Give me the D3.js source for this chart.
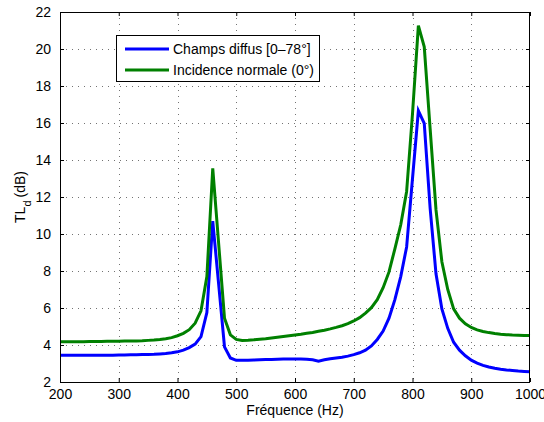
<!DOCTYPE html>
<html>
<head>
<meta charset="utf-8">
<script src="https://cdn.jsdelivr.net/npm/d3@7"></script>
<style>
  html, body { margin: 0; padding: 0; background: #fff; }
  svg { display: block; font-family: "Liberation Sans", Arial, Helvetica, sans-serif; }
</style>
</head>
<body>
<svg id="chart" width="544" height="422"></svg>
<script>
// ---- data ----
const frequencies = [200,210,220,230,240,250,260,270,280,290,300,310,320,330,340,350,360,370,380,390,
  400,410,420,430,440,450,460,470,480,490,500,510,520,530,540,550,560,570,580,590,
  600,610,620,630,640,650,660,670,680,690,700,710,720,730,740,750,760,770,780,790,
  800,810,820,830,840,850,860,870,880,890,900,910,920,930,940,950,960,970,980,990,1000];

const champsDiffus = [3.44,3.44,3.44,3.44,3.44,3.45,3.45,3.45,3.45,3.45,3.46,3.46,3.47,3.47,3.48,3.49,3.50,3.52,3.54,3.58,
  3.63,3.72,3.86,4.05,4.45,5.75,10.7,7.3,3.9,3.3,3.17,3.17,3.18,3.19,3.20,3.21,3.22,3.23,3.24,3.24,
  3.24,3.24,3.23,3.20,3.12,3.20,3.26,3.30,3.34,3.40,3.48,3.58,3.72,3.95,4.30,4.75,5.45,6.45,7.7,9.3,
  13.0,16.66,15.98,11.4,7.85,5.95,4.9,4.15,3.72,3.42,3.18,3.02,2.90,2.81,2.74,2.69,2.65,2.62,2.59,2.57,2.55];

const incidenceNormale = [4.18,4.18,4.18,4.18,4.18,4.19,4.19,4.19,4.20,4.20,4.20,4.21,4.21,4.22,4.23,4.25,4.27,4.30,4.34,4.40,
  4.50,4.63,4.83,5.18,5.85,7.7,13.55,9.5,5.45,4.55,4.30,4.25,4.26,4.28,4.31,4.34,4.38,4.42,4.46,4.50,
  4.54,4.58,4.63,4.68,4.74,4.80,4.87,4.95,5.04,5.15,5.30,5.48,5.72,6.02,6.45,7.1,7.95,9.2,10.5,12.3,
  16.5,21.26,20.12,15.7,11.3,8.5,7.0,5.95,5.45,5.15,4.95,4.82,4.73,4.67,4.62,4.58,4.56,4.54,4.53,4.52,4.51];

const seriesNames = ["Champs diffus [0\u201378\u00b0]", "Incidence normale (0\u00b0)"];
const seriesColors = ["#0000ff", "#008000"];
const xTicks = [200,300,400,500,600,700,800,900,1000];
const yTicks = [2,4,6,8,10,12,14,16,18,20,22];
const xLabel = "Fr\u00e9quence (Hz)";

// ---- layout ----
const svg = d3.select("#chart");
const L = 60, R = 530, T = 12, B = 382;
const x = d3.scaleLinear().domain([200, 1000]).range([L, R]);
const y = d3.scaleLinear().domain([2, 22]).range([B, T]);
const fontSize = 14;

// grid
const grid = svg.append("g").attr("stroke", "#000").attr("stroke-opacity", 0.55)
  .attr("stroke-width", 1).attr("stroke-dasharray", "1,5").attr("shape-rendering", "crispEdges");
xTicks.filter(t => t > 200 && t < 1000).forEach(t => {
  grid.append("line").attr("x1", Math.round(x(t)) + 0.5).attr("x2", Math.round(x(t)) + 0.5)
    .attr("y1", T).attr("y2", B);
});
yTicks.filter(t => t > 2 && t < 22).forEach(t => {
  grid.append("line").attr("y1", Math.round(y(t)) + 0.5).attr("y2", Math.round(y(t)) + 0.5)
    .attr("x1", L).attr("x2", R);
});

// curves
const line = d3.line().x((d, i) => x(frequencies[i])).y(d => y(d));
[champsDiffus, incidenceNormale].forEach((s, k) => {
  svg.append("path").datum(s).attr("d", line).attr("fill", "none")
    .attr("stroke", seriesColors[k]).attr("stroke-width", 3)
    .attr("stroke-linejoin", "miter").attr("stroke-linecap", "butt");
});

// axes (MATLAB style, inward ticks on all sides)
const tickLen = 4;
const xAxisB = d3.axisBottom(x).tickValues(xTicks).tickSizeInner(-tickLen).tickSizeOuter(0).tickPadding(7).tickFormat(d3.format("d"));
const xAxisT = d3.axisTop(x).tickValues(xTicks).tickSizeInner(-tickLen).tickSizeOuter(0).tickFormat("");
const yAxisL = d3.axisLeft(y).tickValues(yTicks).tickSizeInner(-tickLen).tickSizeOuter(0).tickPadding(9).tickFormat(d3.format("d"));
const yAxisR = d3.axisRight(y).tickValues(yTicks).tickSizeInner(-tickLen).tickSizeOuter(0).tickFormat("");

function styleAxis(g) {
  g.select(".domain").remove();
  g.selectAll("line").attr("stroke", "#000");
  g.selectAll("text").attr("fill", "#000").attr("font-size", fontSize).attr("font-family", null);
}
svg.append("g").attr("transform", `translate(0,${B})`).call(xAxisB).call(styleAxis);
svg.append("g").attr("transform", `translate(0,${T})`).call(xAxisT).call(styleAxis);
svg.append("g").attr("transform", `translate(${L},0)`).call(yAxisL).call(styleAxis);
svg.append("g").attr("transform", `translate(${R},0)`).call(yAxisR).call(styleAxis);

// box
svg.append("rect").attr("x", L + 0.5).attr("y", T + 0.5).attr("width", R - L - 1).attr("height", B - T)
  .attr("fill", "none").attr("stroke", "#000").attr("stroke-width", 1);

// axis labels
svg.append("text").attr("x", (L + R) / 2).attr("y", 415).attr("text-anchor", "middle")
  .attr("font-size", fontSize).text(xLabel);

const yl = svg.append("text").attr("transform", `translate(25,${(T + B) / 2}) rotate(-90)`)
  .attr("text-anchor", "middle").attr("font-size", fontSize);
yl.append("tspan").text("TL");
yl.append("tspan").attr("baseline-shift", "sub").attr("font-size", 11).text("d");
yl.append("tspan").attr("dx", 3).text("(dB)");

// legend
const lg = svg.append("g");
const lgX = 116, lgY = 35, lgH = 46;
const box = lg.append("rect").attr("x", lgX + 0.5).attr("y", lgY + 0.5).attr("height", lgH)
  .attr("fill", "#fff").attr("stroke", "#000").attr("stroke-width", 1);
let maxW = 0;
seriesNames.forEach((name, k) => {
  const cy = 49 + k * 21;
  lg.append("line").attr("x1", 125).attr("x2", 169).attr("y1", cy).attr("y2", cy)
    .attr("stroke", seriesColors[k]).attr("stroke-width", 3);
  const t = lg.append("text").attr("x", 173).attr("y", cy).attr("dy", "0.35em")
    .attr("font-size", fontSize).text(name);
  maxW = Math.max(maxW, t.node().getComputedTextLength());
});
box.attr("width", Math.round(173 + maxW + 5 - lgX));
</script>
</body>
</html>
